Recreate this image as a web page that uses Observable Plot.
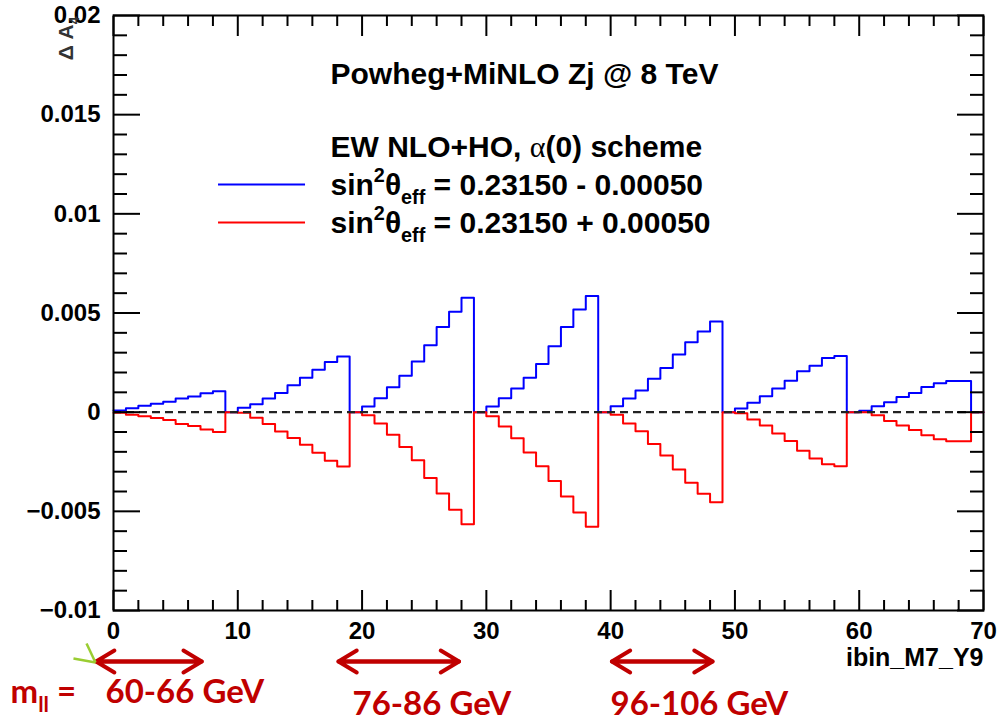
<!DOCTYPE html>
<html>
<head>
<meta charset="utf-8">
<script src="https://cdn.jsdelivr.net/npm/d3@7"></script>
<script src="https://cdn.jsdelivr.net/npm/@observablehq/plot@0.6"></script>
<style>
  html, body { margin: 0; padding: 0; background: #fff; }
  #chart svg { display: block; }
</style>
</head>
<body>
<div id="chart"></div>
<script>
// ---- data (ibin_M7_Y9: 7 mass bins x 10 rapidity bins; last bin of each block empty) ----
const blueMinus = [
  0.00008, 0.00020, 0.00032, 0.00042, 0.00052, 0.00069, 0.00079, 0.00095, 0.00105, 0,
  0.00022, 0.00040, 0.00069, 0.00097, 0.00136, 0.00174, 0.00214, 0.00253, 0.00281, 0,
  0.00028, 0.00070, 0.00126, 0.00184, 0.00255, 0.00338, 0.00429, 0.00506, 0.00577, 0,
  0.00028, 0.00070, 0.00119, 0.00174, 0.00243, 0.00332, 0.00429, 0.00518, 0.00586, 0,
  0.00030, 0.00069, 0.00109, 0.00168, 0.00223, 0.00291, 0.00352, 0.00407, 0.00457, 0,
  0.00018, 0.00047, 0.00080, 0.00119, 0.00159, 0.00206, 0.00234, 0.00273, 0.00283, 0,
  0.00007, 0.00030, 0.00050, 0.00077, 0.00097, 0.00127, 0.00146, 0.00157, 0.00157, 0
];
const redPlus = [
  -0.00003, -0.00013, -0.00020, -0.00030, -0.00040, -0.00060, -0.00070, -0.00087, -0.00100, 0,
  -0.00003, -0.00028, -0.00060, -0.00097, -0.00130, -0.00164, -0.00204, -0.00245, -0.00274, 0,
  -0.00015, -0.00057, -0.00114, -0.00176, -0.00243, -0.00332, -0.00410, -0.00492, -0.00565, 0,
  -0.00020, -0.00072, -0.00132, -0.00203, -0.00273, -0.00347, -0.00425, -0.00506, -0.00578, 0,
  -0.00013, -0.00057, -0.00096, -0.00160, -0.00218, -0.00289, -0.00356, -0.00411, -0.00454, 0,
  -0.00005, -0.00037, -0.00067, -0.00107, -0.00146, -0.00194, -0.00233, -0.00263, -0.00273, 0,
   0.00000, -0.00015, -0.00045, -0.00067, -0.00090, -0.00117, -0.00137, -0.00147, -0.00147, 0
];
const xTicks = [0, 10, 20, 30, 40, 50, 60, 70];
const yTicks = [-0.01, -0.005, 0, 0.005, 0.01, 0.015, 0.02];
const xTitle = "ibin_M7_Y9";
const yTitle = "Δ A_{4}";
const legendHeader = ["Powheg+MiNLO Zj @ 8 TeV", "EW NLO+HO, ~{α}(0) scheme"];
const seriesLabels = ["sin^{2}θ_{eff} = 0.23150 - 0.00050", "sin^{2}θ_{eff} = 0.23150 + 0.00050"];
const seriesColors = ["#0000ff", "#ff0000"];
// annotation: m_ll ranges (arrows in ibin units)
const massPrefix = "m_{ll} =";
const massLabels = ["60-66 GeV", "76-86 GeV", "96-106 GeV"];
const arrowFrom = [-1.4, 18.1, 40.1];
const arrowTo = [7.1, 27.8, 48.2];
const arrowLevel = -0.01257;

// ---- derived ----
function steps(vals) {
  const pts = vals.map((v, i) => ({x: i, y: v}));
  pts.push({x: vals.length, y: vals[vals.length - 1]});
  return pts;
}
const isMult = (v, s) => Math.abs(v / s - Math.round(v / s)) < 1e-6;
const xMinor = d3.range(0, 71, 2).filter(v => v % 10 !== 0);
const yMinor = d3.range(-10, 21, 1).map(v => v / 1000).filter(v => !isMult(v, 0.005));
const fmtY = d => d === 0 ? "0" : (d < 0 ? "\u2212" : "") + String(+Math.abs(d).toFixed(4));

const arrows = [];
arrowFrom.forEach((a, i) => {
  arrows.push({a, b: arrowTo[i]});
  arrows.push({a: arrowTo[i], b: a});
});

const font = "'Liberation Sans', Arial, Helvetica, sans-serif";
const annFont = "Lato, 'Open Sans', sans-serif";
const dark = "#c00000";

const tickOpts = {strokeWidth: 2, tickFormat: () => "", label: null};
const labelOpts = {tickSize: 0, label: null, fontSize: 24, fontWeight: "bold", fill: "#000"};
const legendText = {text: d => d, frameAnchor: "top-left", textAnchor: "start", lineAnchor: "bottom", dx: 217, fontSize: 30, fontWeight: "bold", fill: "#000"};
const annText = {text: d => d, frameAnchor: "top-left", textAnchor: "start", lineAnchor: "bottom", fontFamily: annFont, fontSize: 33, fontWeight: "bold", fill: dark};

const chart = Plot.plot({
  width: 999,
  height: 721,
  marginTop: 15,
  marginRight: 16,
  marginBottom: 111,
  marginLeft: 113,
  x: {domain: [0, 70]},
  y: {domain: [-0.01, 0.02]},
  style: {fontFamily: font, background: "#fff", color: "#000"},
  marks: [
    // histograms
    Plot.line(steps(blueMinus), {x: "x", y: "y", curve: "step-after", stroke: seriesColors[0], strokeWidth: 2}),
    Plot.line(steps(redPlus), {x: "x", y: "y", curve: "step-after", stroke: seriesColors[1], strokeWidth: 2}),
    Plot.ruleY([0], {x1: 0, x2: 70, stroke: "#222", strokeWidth: 2.2, strokeDasharray: "8,5"}),
    // frame + inward ticks
    Plot.frame({stroke: "#000", strokeWidth: 2}),
    Plot.axisX({...tickOpts, ticks: xTicks, anchor: "bottom", tickSize: -20}),
    Plot.axisX({...tickOpts, ticks: xMinor, anchor: "bottom", tickSize: -10}),
    Plot.axisX({...tickOpts, ticks: xTicks, anchor: "top", tickSize: -20}),
    Plot.axisX({...tickOpts, ticks: xMinor, anchor: "top", tickSize: -10}),
    Plot.axisY({...tickOpts, ticks: yTicks, anchor: "left", tickSize: -27}),
    Plot.axisY({...tickOpts, ticks: yMinor, anchor: "left", tickSize: -14}),
    Plot.axisY({...tickOpts, ticks: yTicks, anchor: "right", tickSize: -27}),
    Plot.axisY({...tickOpts, ticks: yMinor, anchor: "right", tickSize: -14}),
    // tick labels
    Plot.axisX({...labelOpts, ticks: xTicks, anchor: "bottom", tickPadding: 11, tickFormat: d => String(d)}),
    Plot.axisY({...labelOpts, ticks: yTicks, anchor: "left", tickPadding: 13, tickFormat: fmtY}),
    // axis titles
    Plot.text([xTitle], {text: d => d, frameAnchor: "bottom-right", textAnchor: "end", lineAnchor: "bottom", dy: 55, fontSize: 25, fontWeight: "bold", fill: "#000"}),
    Plot.text([yTitle], {text: d => d, frameAnchor: "top-left", rotate: -90, textAnchor: "end", lineAnchor: "bottom", dx: -41, dy: 1, fontSize: 21, fontWeight: "bold", fill: "#333"}),
    // legend
    Plot.text([legendHeader[0]], {...legendText, dy: 68}),
    Plot.text([legendHeader[1]], {...legendText, dy: 141}),
    Plot.text([seriesLabels[0]], {...legendText, dy: 179}),
    Plot.text([seriesLabels[1]], {...legendText, dy: 217}),
    Plot.ruleY([0.01148], {x1: 8.45, x2: 15.45, stroke: seriesColors[0], strokeWidth: 2}),
    Plot.ruleY([0.009565], {x1: 8.45, x2: 15.45, stroke: seriesColors[1], strokeWidth: 2}),
    // m_ll annotations
    Plot.arrow(arrows, {x1: "a", x2: "b", y1: arrowLevel, y2: arrowLevel, stroke: dark, strokeWidth: 4, headLength: 8, headAngle: 62, strokeLinecap: "round", strokeLinejoin: "round"}),
    Plot.link([{a: -3.22, b: -1.45, c: -0.01242, d: -0.01262}, {a: -2.17, b: -1.45, c: -0.01166, d: -0.01262}],
      {x1: "a", x2: "b", y1: "c", y2: "d", stroke: "#9acd32", strokeWidth: 2.5}),
    Plot.text([massPrefix], {...annText, dx: -103, dy: 687}),
    Plot.text([massLabels[0]], {...annText, dx: -8, dy: 687}),
    Plot.text([massLabels[1]], {...annText, dx: 239, dy: 699}),
    Plot.text([massLabels[2]], {...annText, dx: 497, dy: 699})
  ]
});

document.getElementById("chart").appendChild(chart);

// rich text: ^{sup}, _{sub}, ~{symbol}
const NS = "http://www.w3.org/2000/svg";
d3.select(chart).selectAll("text").each(function () {
  const el = this;
  const s = el.textContent;
  if (!/[\^_~]\{/.test(s)) return;
  const fs = parseFloat(getComputedStyle(el).fontSize);
  el.textContent = "";
  const parts = s.split(/([\^_~]\{[^}]*\})/).filter(p => p);
  let shift = 0;
  for (const p of parts) {
    const t = document.createElementNS(NS, "tspan");
    let target = 0, txt = p;
    if (p.startsWith("^{")) { target = -0.42 * fs; txt = p.slice(2, -1); t.setAttribute("font-size", 0.66 * fs); }
    else if (p.startsWith("_{")) { target = 0.3 * fs; txt = p.slice(2, -1); t.setAttribute("font-size", 0.66 * fs); }
    else if (p.startsWith("~{")) { txt = p.slice(2, -1); t.setAttribute("font-family", "'Liberation Serif', 'DejaVu Serif', serif"); t.setAttribute("font-weight", "normal"); }
    if (target - shift !== 0) t.setAttribute("dy", target - shift);
    shift = target;
    t.textContent = txt;
    el.appendChild(t);
  }
});
</script>
</body>
</html>
